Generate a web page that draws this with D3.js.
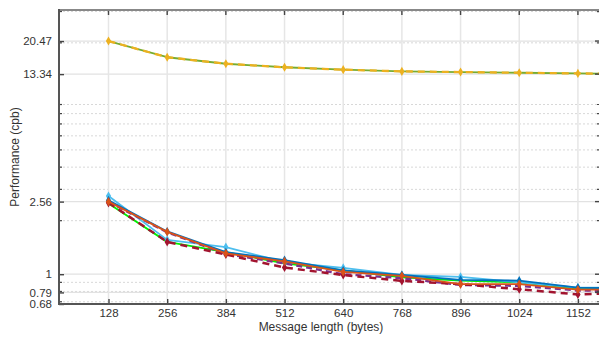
<!DOCTYPE html>
<html>
<head>
<meta charset="utf-8">
<script src="https://cdn.jsdelivr.net/npm/d3@7"></script>
<style>
  html, body { margin: 0; padding: 0; background: #fff; }
  svg { display: block; font-family: "Liberation Sans", Arial, sans-serif; }
</style>
</head>
<body>
<svg id="chart" width="599" height="338"></svg>
<script>
// Message lengths (bytes); the last point lies just past the visible range
const lengths = [128, 256, 384, 512, 640, 768, 896, 1024, 1152, 1280];
const xTicks = [128, 256, 384, 512, 640, 768, 896, 1024, 1152];

// Labelled y ticks and log minor ticks
const yTicks = [0.68, 0.79, 1, 2.56, 13.34, 20.47];
const yMinor = [0.7, 0.8, 0.9, 2, 3, 4, 5, 6, 7, 8, 9, 20, 30];

// Performance in cycles per byte
const slowA   = [20.47, 16.6, 15.26, 14.58, 14.13, 13.82, 13.70, 13.58, 13.46, 13.34];
const slowB   = [20.47, 16.6, 15.26, 14.58, 14.13, 13.82, 13.70, 13.58, 13.46, 13.34];
const blue    = [2.60, 1.74, 1.33, 1.20, 1.05, 0.99, 0.93, 0.92, 0.84, 0.83];
const orange  = [2.56, 1.73, 1.31, 1.18, 1.03, 0.98, 0.88, 0.88, 0.82, 0.82];
const purple  = [2.55, 1.72, 1.30, 1.15, 1.00, 0.95, 0.87, 0.86, 0.81, 0.80];
const cyan    = [2.75, 1.56, 1.42, 1.17, 1.085, 0.99, 0.966, 0.90, 0.84, 0.84];
const green   = [2.50, 1.52, 1.33, 1.15, 1.05, 0.96, 0.92, 0.90, 0.83, 0.82];
const darkRed = [2.52, 1.52, 1.29, 1.09, 0.99, 0.917, 0.88, 0.823, 0.77, 0.79];

const series = [
  { values: green,   color: "#00ee00", width: 1.8, dash: null,  marker: false },
  { values: cyan,    color: "#4dbeee", width: 1.8, dash: null,  marker: true  },
  { values: blue,    color: "#0072bd", width: 1.8, dash: null,  marker: true  },
  { values: purple,  color: "#7e2f8e", width: 2.3, dash: "6,4", marker: false },
  { values: darkRed, color: "#a2142f", width: 2.5, dash: "7,5", marker: true  },
  { values: orange,  color: "#d95319", width: 1.8, dash: null,  marker: true  },
  { values: slowA,   color: "#77ac30", width: 1.8, dash: null,  marker: false },
  { values: slowB,   color: "#edb120", width: 2.3, dash: "7,5", marker: true  }
];

const plotLeft = 59, plotRight = 600, plotTop = 10, plotBottom = 304;

const svg = d3.select("#chart");

const x = d3.scaleLinear().domain([20, 1198]).range([plotLeft, 599]);
const y = d3.scaleLog().domain([0.68, 30.6]).range([plotBottom, plotTop]);

svg.append("defs").append("clipPath").attr("id", "plotClip")
  .append("rect").attr("x", plotLeft).attr("y", plotTop - 2)
  .attr("width", plotRight - plotLeft).attr("height", plotBottom - plotTop + 4);

// grid
const grid = svg.append("g");
grid.selectAll(".ymin").data(yMinor).join("line")
  .attr("x1", plotLeft).attr("x2", plotRight)
  .attr("y1", d => y(d)).attr("y2", d => y(d))
  .attr("stroke", "#d8d8d8").attr("stroke-width", 1)
  .attr("stroke-dasharray", "2,2");
grid.selectAll(".ymaj").data(yTicks).join("line")
  .attr("x1", plotLeft).attr("x2", plotRight)
  .attr("y1", d => y(d)).attr("y2", d => y(d))
  .attr("stroke", "#e2e2e2").attr("stroke-width", 1.3);
grid.selectAll(".xmaj").data(xTicks).join("line")
  .attr("x1", d => x(d)).attr("x2", d => x(d))
  .attr("y1", plotTop).attr("y2", plotBottom)
  .attr("stroke", "#e6e6e6").attr("stroke-width", 1.5);

// series
const plot = svg.append("g").attr("clip-path", "url(#plotClip)");
const line = d3.line().x((d, i) => x(lengths[i])).y(d => y(d));
series.forEach(s => {
  plot.append("path").datum(s.values)
    .attr("d", line)
    .attr("fill", "none")
    .attr("stroke", s.color)
    .attr("stroke-width", s.width)
    .attr("stroke-dasharray", s.dash)
    .attr("stroke-linejoin", "round");
  if (s.marker) {
    plot.selectAll(null).data(s.values).join("path")
      .attr("d", d3.symbol(d3.symbolDiamond, 24))
      .attr("transform", (d, i) => `translate(${x(lengths[i])},${y(d)})`)
      .attr("fill", s.color);
  }
});

// axes (ticks pointing inward, mirrored on top and right)
const fontColor = "#333";
const yAxis = d3.axisLeft(y).tickValues(yTicks).tickFormat(d => String(d)).tickSize(-5).tickPadding(7);
const yg = svg.append("g").attr("transform", `translate(${plotLeft},0)`).call(yAxis);
yg.selectAll("text").attr("font-size", 11.5).attr("fill", fontColor)
  .attr("font-family", "Liberation Sans, Arial, sans-serif");

const xAxis = d3.axisBottom(x).tickValues(xTicks).tickFormat(d3.format("d")).tickSize(-5).tickPadding(5);
const xg = svg.append("g").attr("transform", `translate(0,${plotBottom})`).call(xAxis);
xg.selectAll("text").attr("font-size", 11.5).attr("fill", fontColor)
  .attr("font-family", "Liberation Sans, Arial, sans-serif");

[yg, xg].forEach(g => {
  g.select(".domain").remove();
  g.selectAll(".tick line").attr("stroke", "#444").attr("stroke-width", 1.4);
});

// minor ticks on the left and right
svg.append("g").selectAll("line").data(yMinor).join("line")
  .attr("x1", plotLeft).attr("x2", plotLeft + 3)
  .attr("y1", d => y(d)).attr("y2", d => y(d))
  .attr("stroke", "#444").attr("stroke-width", 1.2);
svg.append("g").selectAll("line").data(yMinor).join("line")
  .attr("x1", plotRight).attr("x2", plotRight - 3)
  .attr("y1", d => y(d)).attr("y2", d => y(d))
  .attr("stroke", "#444").attr("stroke-width", 1.2);
svg.append("g").selectAll("line").data(yTicks).join("line")
  .attr("x1", plotRight).attr("x2", plotRight - 5)
  .attr("y1", d => y(d)).attr("y2", d => y(d))
  .attr("stroke", "#444").attr("stroke-width", 1.4);
// mirrored x ticks on top
svg.append("g").selectAll("line").data(xTicks).join("line")
  .attr("x1", d => x(d)).attr("x2", d => x(d))
  .attr("y1", plotTop).attr("y2", plotTop + 5)
  .attr("stroke", "#444").attr("stroke-width", 1.4);

// frame
svg.append("line").attr("x1", plotLeft).attr("x2", plotRight).attr("y1", plotTop).attr("y2", plotTop)
  .attr("stroke", "#888").attr("stroke-width", 2);
svg.append("line").attr("x1", plotLeft).attr("x2", plotLeft).attr("y1", plotTop - 1).attr("y2", plotBottom + 1)
  .attr("stroke", "#555").attr("stroke-width", 2);
svg.append("line").attr("x1", plotLeft - 1).attr("x2", plotRight).attr("y1", plotBottom).attr("y2", plotBottom)
  .attr("stroke", "#555").attr("stroke-width", 2);

// axis titles
svg.append("text")
  .attr("x", 321).attr("y", 331)
  .attr("text-anchor", "middle")
  .attr("font-size", 12).attr("fill", fontColor)
  .text("Message length (bytes)");
svg.append("text")
  .attr("transform", `translate(19,${(plotTop + plotBottom) / 2}) rotate(-90)`)
  .attr("text-anchor", "middle")
  .attr("font-size", 12).attr("fill", fontColor)
  .text("Performance (cpb)");
</script>
</body>
</html>
